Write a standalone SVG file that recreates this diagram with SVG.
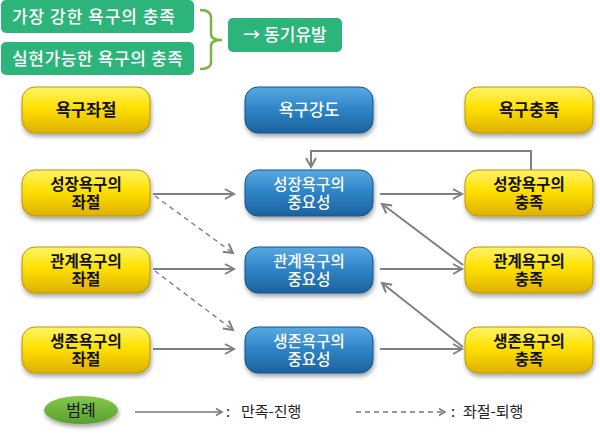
<svg xmlns="http://www.w3.org/2000/svg" width="600" height="444" viewBox="0 0 600 444">
<defs>
<linearGradient id="gy" x1="0" y1="0" x2="0" y2="1">
<stop offset="0" stop-color="#fff36a"/>
<stop offset="0.45" stop-color="#ffe100"/>
<stop offset="1" stop-color="#ddb000"/>
</linearGradient>
<linearGradient id="gb" x1="0" y1="0" x2="0" y2="1">
<stop offset="0" stop-color="#5aa9e2"/>
<stop offset="0.45" stop-color="#2f86c8"/>
<stop offset="1" stop-color="#1d629f"/>
</linearGradient>
<linearGradient id="gg" x1="0" y1="0" x2="0" y2="1">
<stop offset="0" stop-color="#86c84c"/>
<stop offset="1" stop-color="#56a12d"/>
</linearGradient>
<filter id="sh" x="-10%" y="-10%" width="125%" height="140%">
<feDropShadow dx="1" dy="3" stdDeviation="2" flood-color="#000" flood-opacity="0.35"/>
</filter>
<marker id="ah" markerUnits="userSpaceOnUse" markerWidth="14" markerHeight="14" refX="10" refY="6" orient="auto">
<path d="M1,1 L10,6 L1,11" fill="none" stroke="#808080" stroke-width="2"/>
</marker>
<marker id="ahs" markerUnits="userSpaceOnUse" markerWidth="10" markerHeight="10" refX="7" refY="4" orient="auto">
<path d="M1,0.5 L7,4 L1,7.5" fill="none" stroke="#777" stroke-width="1.5"/>
</marker>
</defs>
<style>
.y{fill:url(#gy);stroke:#b8960a;stroke-width:1;filter:url(#sh)}
.b{fill:url(#gb);stroke:#1a5488;stroke-width:1;filter:url(#sh)}
.ty{font-family:"Noto Sans CJK KR","Noto Sans",sans-serif;font-weight:700;font-size:15.5px;fill:#111;text-anchor:middle}
.tb{font-family:"Noto Sans CJK KR","Noto Sans",sans-serif;font-weight:500;font-size:15.5px;fill:#fff;text-anchor:middle}
.th{font-size:16.5px}
.tg{font-family:"Noto Sans CJK KR","Noto Sans",sans-serif;font-weight:500;font-size:17px;fill:#fff}
.c{fill:none;stroke:#808080;stroke-width:2}
.d{stroke-dasharray:5 4;stroke-width:1.5;stroke:#888}
.tl{font-family:"Noto Sans CJK KR","Noto Sans",sans-serif;font-size:15px;fill:#222}
</style>
<g id="top">
<rect x="1" y="0" width="193" height="33" rx="5" fill="#2db47a"/>
<text class="tg" x="12" y="23" textLength="163" lengthAdjust="spacing">가장 강한 욕구의 충족</text>
<rect x="1" y="42" width="193" height="33" rx="5" fill="#2db47a"/>
<text class="tg" x="12" y="65" textLength="171" lengthAdjust="spacing">실현가능한 욕구의 충족</text>
<path d="M200,10 Q211,10 211,18 V34 Q211,40 222,40 Q211,40 211,46 V62 Q211,69 200,69" fill="none" stroke="#7cb342" stroke-width="2.5"/>
<rect x="228" y="18" width="114" height="34" rx="5" fill="#2db47a"/>
<text class="tg" x="285" y="41" text-anchor="middle">→ 동기유발</text>
</g>
<g id="h1"><rect class="y" x="22" y="87" width="128" height="46" rx="13"/><text class="ty th" x="86" y="116">욕구좌절</text></g>
<g id="h2"><rect class="b" x="245" y="87" width="128" height="46" rx="13"/><text class="tb th" x="309" y="116">욕구강도</text></g>
<g id="h3"><rect class="y" x="465" y="87" width="128" height="46" rx="13"/><text class="ty th" x="529" y="116">욕구충족</text></g>

<g id="l1"><rect class="y" x="22" y="170" width="128" height="46" rx="13"/><text class="ty" x="86" y="190">성장욕구의<tspan x="86" dy="18">좌절</tspan></text></g>
<g id="m1"><rect class="b" x="245" y="170" width="128" height="46" rx="13"/><text class="tb" x="309" y="190">성장욕구의<tspan x="309" dy="18">중요성</tspan></text></g>
<g id="r1"><rect class="y" x="465" y="170" width="128" height="46" rx="13"/><text class="ty" x="529" y="190">성장욕구의<tspan x="529" dy="18">충족</tspan></text></g>

<g id="l2"><rect class="y" x="22" y="247" width="128" height="46" rx="13"/><text class="ty" x="86" y="267">관계욕구의<tspan x="86" dy="18">좌절</tspan></text></g>
<g id="m2"><rect class="b" x="245" y="247" width="128" height="46" rx="13"/><text class="tb" x="309" y="267">관계욕구의<tspan x="309" dy="18">중요성</tspan></text></g>
<g id="r2"><rect class="y" x="465" y="247" width="128" height="46" rx="13"/><text class="ty" x="529" y="267">관계욕구의<tspan x="529" dy="18">충족</tspan></text></g>

<g id="l3"><rect class="y" x="22" y="327" width="128" height="46" rx="13"/><text class="ty" x="86" y="347">생존욕구의<tspan x="86" dy="18">좌절</tspan></text></g>
<g id="m3"><rect class="b" x="245" y="327" width="128" height="46" rx="13"/><text class="tb" x="309" y="347">생존욕구의<tspan x="309" dy="18">중요성</tspan></text></g>
<g id="r3"><rect class="y" x="465" y="327" width="128" height="46" rx="13"/><text class="ty" x="529" y="347">생존욕구의<tspan x="529" dy="18">충족</tspan></text></g>

<g id="connectors">
<path class="c" d="M153,194 H234" marker-end="url(#ah)"/>
<path class="c" d="M380,194 H462" marker-end="url(#ah)"/>
<path class="c" d="M153,269 H234" marker-end="url(#ah)"/>
<path class="c" d="M380,269 H462" marker-end="url(#ah)"/>
<path class="c" d="M153,349 H234" marker-end="url(#ah)"/>
<path class="c" d="M380,349 H462" marker-end="url(#ah)"/>
<path class="c" d="M531,170 V151 H311 V167" marker-end="url(#ah)"/>
<path class="c" d="M463,265 L382,204" marker-end="url(#ah)"/>
<path class="c" d="M463,347 L382,283" marker-end="url(#ah)"/>
<path class="c d" d="M155,196 L233,253" marker-end="url(#ah)"/>
<path class="c d" d="M155,271 L233,330" marker-end="url(#ah)"/>
</g>
<g id="legend">
<ellipse cx="81" cy="410" rx="37" ry="14" fill="url(#gg)" filter="url(#sh)"/>
<text class="tl" x="81" y="416" text-anchor="middle" style="font-size:16px;fill:#111">범례</text>
<path d="M135,412 H222" fill="none" stroke="#777" stroke-width="1.5" marker-end="url(#ahs)"/>
<text class="tl" x="226" y="417">:</text>
<text class="tl" x="241" y="417">만족-진행</text>
<path d="M356,412 H445" fill="none" stroke="#777" stroke-width="1.5" stroke-dasharray="5 4" marker-end="url(#ahs)"/>
<text class="tl" x="451" y="417">:</text>
<text class="tl" x="463" y="417">좌절-퇴행</text>
</g>
</svg>
